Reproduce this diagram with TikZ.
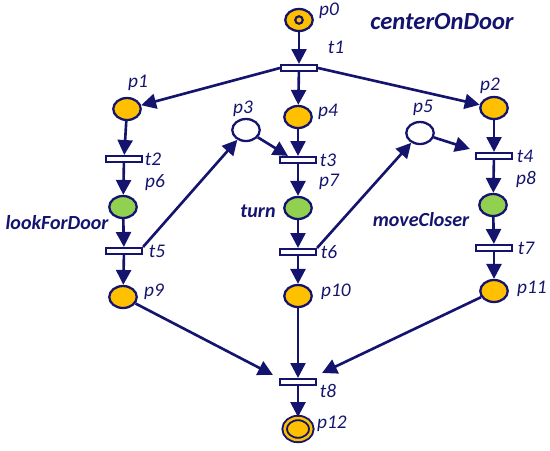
\documentclass[tikz,border=0pt]{standalone}
\usepackage{fontspec}
\setmainfont{Carlito}
\usetikzlibrary{arrows.meta,calc,shapes.geometric}
\definecolor{navy}{HTML}{14146F}
\definecolor{gold}{HTML}{FFC000}
\definecolor{leaf}{HTML}{92D050}
\tikzset{
  place/.style={ellipse,draw=navy,line width=1.3pt,fill=#1,minimum width=0.55cm,minimum height=0.44cm,inner sep=0pt},
  place/.default=white,
  trans/.style={rectangle,draw=navy,line width=1.2pt,fill=white,minimum width=0.72cm,minimum height=0.12cm,inner sep=0pt},
  arc/.style={draw=navy,line width=1.5pt,-{Triangle[length=8.5pt,width=8.5pt]}},
  lbl/.style={text=navy,font=\fontsize{11}{13}\selectfont\itshape,inner sep=0pt},
  act/.style={text=navy,font=\fontsize{11.4}{13}\selectfont\bfseries\itshape,inner sep=0pt},
  txt/.style args={#1/#2/#3}{label={[lbl,xshift=(#1)*0.02cm,yshift=(#2)*(-0.02cm)]center:#3}},
  acttxt/.style args={#1/#2/#3}{label={[act,xshift=(#1)*0.02cm,yshift=(#2)*(-0.02cm)]center:#3}}
}

\begin{document}
\begin{tikzpicture}[x=0.02cm,y=-0.02cm]
  \useasboundingbox (0,0) rectangle (550,450);
  % places
  \node[place=gold,txt=30/-9/p0] (p0) at (299,20) {};
  \node[place=gold,txt=11/-26/p1] (p1) at (127,109) {};
  \node[place=gold,txt=-4/-22/p2] (p2) at (494,108) {};
  \node[place,txt=-3/-21/p3] (p3) at (246,130) {};
  \node[place=gold,txt=30/-5/p4] (p4) at (298,117) {};
  \node[place,txt=3/-25/p5] (p5) at (420,133) {};
  \node[place=leaf,txt=32/-24/p6,acttxt=-66/16/lookForDoor] (p6) at (123,207) {};
  \node[place=leaf,txt=31/-26/p7,acttxt=-40/3/turn] (p7) at (298,208) {};
  \node[place=leaf,txt=33/-26/p8,acttxt=-72/15/moveCloser] (p8) at (493,205) {};
  \node[place=gold,txt=31/-5/p9] (p9) at (123,297) {};
  \node[place=gold,txt=38/-4/p10] (p10) at (298,296) {};
  \node[place=gold,txt=38/-2/p11] (p11) at (494,291) {};
  \node[place=gold,line width=1.1pt,double=gold,double distance=1.4pt,minimum width=0.535cm,minimum height=0.44cm,txt=34/-5/p12] (p12) at (298,429) {};
  \draw[navy,line width=1.2pt] (p0) circle[radius=0.075cm];
  % transitions
  \node[trans,txt=37/-21/t1] (t1) at (299,68) {};
  \node[trans,txt=29/0/t2] (t2) at (124,159) {};
  \node[trans,txt=30/0/t3] (t3) at (298,160) {};
  \node[trans,txt=31/0/t4] (t4) at (494,156) {};
  \node[trans,txt=33/0/t5] (t5) at (124,251) {};
  \node[trans,txt=31/0/t6] (t6) at (298,252) {};
  \node[trans,txt=32/0/t7] (t7) at (494,248) {};
  \node[trans,txt=30/9/t8] (t8) at (298,382) {};
  \node[act,font=\fontsize{14}{16}\selectfont\bfseries\itshape] (title) at (442,22) {centerOnDoor};
  % arcs
  \draw[arc] (p0) -- (t1);
  \draw[arc] (t1.west) -- (p1);
  \draw[arc] (t1) -- (p4);
  \draw[arc] (t1.east) -- (p2);
  \draw[arc] (p1) -- (t2);
  \draw[arc] (t2) -- (p6);
  \draw[arc] (p6) -- (t5);
  \draw[arc] (t5) -- (p9);
  \draw[arc] (t5.north east) -- (p3);
  \draw[arc] (p3) -- ([xshift=0.18cm]t3.north west);
  \draw[arc] (p4) -- (t3);
  \draw[arc] (t3) -- (p7);
  \draw[arc] (p7) -- (t6);
  \draw[arc] (t6) -- (p10);
  \draw[arc] (t6.north east) -- (p5);
  \draw[arc] (p5) -- ([xshift=-0.1cm,yshift=0.06cm]t4.north west);
  \draw[arc] (p2) -- (t4);
  \draw[arc] (t4) -- (p8);
  \draw[arc] (p8) -- (t7);
  \draw[arc] (t7) -- (p11);
  \draw[arc] (p9) -- ([xshift=-0.12cm,yshift=0.06cm]t8.north west);
  \draw[arc] (p10) -- (t8);
  \draw[arc] (p11) -- ([xshift=0.1cm,yshift=0.1cm]t8.north east);
  \draw[arc] (t8) -- (p12);
\end{tikzpicture}
\end{document}
